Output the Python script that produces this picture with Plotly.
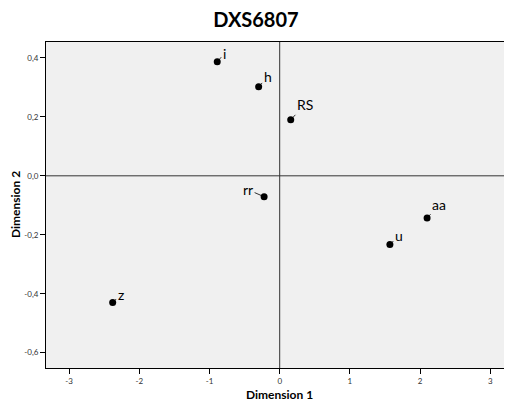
import plotly.graph_objects as go

labels = ["i", "h", "RS", "rr", "aa", "u", "z"]
dim1 = [-0.89, -0.30, 0.157, -0.222, 2.10, 1.57, -2.38]
dim2 = [0.387, 0.302, 0.190, -0.071, -0.143, -0.233, -0.430]
label_dx = [7, 9, 14, -16, 12, 9, 8]
label_dy = [-8, -10, -15, -7, -13, -9, -8]

xtick_vals = [-3, -2, -1, 0, 1, 2, 3]
xtick_text = ["-3", "-2", "-1", "0", "1", "2", "3"]
ytick_vals = [0.4, 0.2, 0.0, -0.2, -0.4, -0.6]
ytick_text = ["0,4", "0,2", "0,0", "-0,2", "-0,4", "-0,6"]

FONT = "Lato"

fig = go.Figure()
fig.add_trace(go.Scatter(
    x=dim1, y=dim2, mode="markers",
    marker=dict(color="black", size=7),
    hoverinfo="skip", showlegend=False))

for lab, x, y, dx, dy in zip(labels, dim1, dim2, label_dx, label_dy):
    fig.add_annotation(x=x, y=y, text=lab, showarrow=True, arrowhead=0,
                       arrowwidth=0.8, arrowcolor="black", ax=dx, ay=dy,
                       standoff=2, font=dict(family=FONT, size=14, color="black"))

# axis titles
fig.add_annotation(xref="paper", yref="paper", x=0.5, y=0, text="<b>Dimension 1</b>",
                   showarrow=False, xanchor="center", yanchor="middle", yshift=-26,
                   font=dict(family=FONT, size=12, color="black"))
fig.add_annotation(xref="paper", yref="paper", x=0, y=0.5, text="<b>Dimension 2</b>",
                   showarrow=False, xanchor="center", yanchor="middle", xshift=-31,
                   textangle=-90, font=dict(family=FONT, size=12, color="black"))

fig.add_shape(type="line", xref="x", yref="paper", x0=0, x1=0, y0=0, y1=1,
              line=dict(color="#333333", width=1))
fig.add_shape(type="line", xref="paper", yref="y", x0=0, x1=1, y0=0, y1=0,
              line=dict(color="#333333", width=1))

# page body has an 8px margin, so the figure is sized/offset to compensate
fig.update_layout(
    width=504, height=394,
    margin=dict(l=38, r=0, t=34, b=34, autoexpand=False),
    paper_bgcolor="white", plot_bgcolor="#f0f0f0",
    title=dict(text="<b>DXS6807</b>", x=0.492, xanchor="center", y=0.9695,
               yanchor="middle", automargin=False,
               font=dict(family=FONT, size=20, color="black")),
    font=dict(family=FONT, color="black"),
    xaxis=dict(range=[-3.33, 3.31], tickvals=xtick_vals, ticktext=xtick_text,
               ticks="outside", ticklen=5, tickcolor="black", showgrid=False,
               zeroline=False, showline=True, linecolor="black", mirror=True,
               automargin=False, tickfont=dict(size=8, color="#333333")),
    yaxis=dict(range=[-0.652, 0.454], tickvals=ytick_vals, ticktext=ytick_text,
               ticks="outside", ticklen=5, tickcolor="black", showgrid=False,
               zeroline=False, showline=True, linecolor="black", mirror=False,
               automargin=False, tickfont=dict(size=8, color="#333333")),
)

fig.write_html("out.html")
